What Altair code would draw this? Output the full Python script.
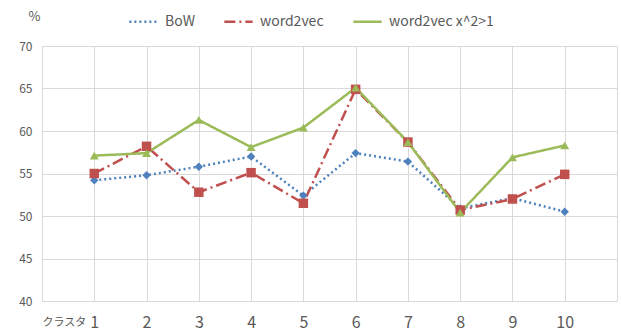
import altair as alt
import pandas as pd

clusters = [1, 2, 3, 4, 5, 6, 7, 8, 9, 10]
bow = [54.2, 54.8, 55.8, 57.0, 52.4, 57.4, 56.4, 50.9, 52.1, 50.5]
w2v = [55.0, 58.2, 52.8, 55.1, 51.5, 64.9, 58.7, 50.7, 52.0, 54.9]
w2v_x2 = [57.1, 57.4, 61.3, 58.1, 60.4, 65.1, 58.7, 50.4, 56.9, 58.3]

series_names = ["BoW", "word2vec", "word2vec x^2>1"]
colors = ["#4F81BD", "#C0504D", "#9BBB59"]
dashes = [[2, 3], [11, 4, 2, 4], [1, 0]]
shapes = ["diamond", "square", "triangle-up"]
sizes = [70, 90, 80]
x_ticks = [0, 1, 2, 3, 4, 5, 6, 7, 8, 9, 10, 11]
y_ticks = [40, 45, 50, 55, 60, 65, 70]

rows = []
for name, vals in zip(series_names, [bow, w2v, w2v_x2]):
    for c, v in zip(clusters, vals):
        rows.append({"cluster": c, "value": v, "series": name})
df = pd.DataFrame(rows)

FONT = "Noto Sans CJK JP"
GRAY = "#595959"

x_enc = alt.X(
    "cluster:Q",
    scale=alt.Scale(domain=[0, 11], nice=False, zero=False),
    axis=alt.Axis(
        values=x_ticks,
        title=None,
        labelExpr="datum.value == 0 ? 'クラスタ' : (datum.value == 11 ? '' : datum.label)",
        labelFontSize={"condition": {"test": "datum.value == 0", "value": 11}, "value": 16},
        labelBaseline="middle",
        labelPadding=21,
        labelColor=GRAY,
        labelFont=FONT,
    ),
)
y_enc = alt.Y(
    "value:Q",
    scale=alt.Scale(domain=[40, 70], nice=False, zero=False),
    axis=alt.Axis(
        values=y_ticks,
        title="%",
        titleAngle=0,
        titleX=-8,
        titleY=-30,
        titleAlign="center",
        titleBaseline="middle",
        titleFontSize=13,
        titleFontWeight="normal",
        titleColor=GRAY,
        titleFont=FONT,
        labelFontSize=12,
        labelColor=GRAY,
        labelFont=FONT,
        labelPadding=10,
    ),
)

legend = alt.Legend(
    orient="none",
    legendX=86,
    legendY=-40,
    direction="horizontal",
    title=None,
    symbolType="stroke",
    symbolSize=800,
    symbolStrokeWidth=2.5,
    labelFontSize=14,
    labelColor=GRAY,
    labelFont=FONT,
    labelOffset=6,
    columnPadding=24,
)

color_scale = alt.Scale(domain=series_names, range=colors)

lines = alt.Chart(df).mark_line(strokeWidth=2.5).encode(
    x=x_enc,
    y=y_enc,
    color=alt.Color("series:N", scale=color_scale, legend=legend),
    strokeDash=alt.StrokeDash("series:N", scale=alt.Scale(domain=series_names, range=dashes), legend=legend),
)

layers = [lines]
for name, col, shp, sz in zip(series_names, colors, shapes, sizes):
    layers.append(
        alt.Chart(df)
        .transform_filter(alt.datum.series == name)
        .mark_point(filled=True, opacity=1, size=sz, strokeWidth=0, shape=shp, fill=col)
        .encode(x=x_enc, y=y_enc)
    )

chart = (
    alt.layer(*layers)
    .properties(
        width=575,
        height=255,
        autosize=alt.AutoSizeParams(type="none"),
        padding={"left": 42, "top": 46, "right": 4, "bottom": 35},
        background="white",
    )
    .configure_view(stroke=None)
    .configure_axis(grid=True, gridColor="#D9D9D9", gridWidth=1, domain=False, ticks=False)
)

chart.save("out.html", embed_options={"renderer": "svg", "actions": False})
